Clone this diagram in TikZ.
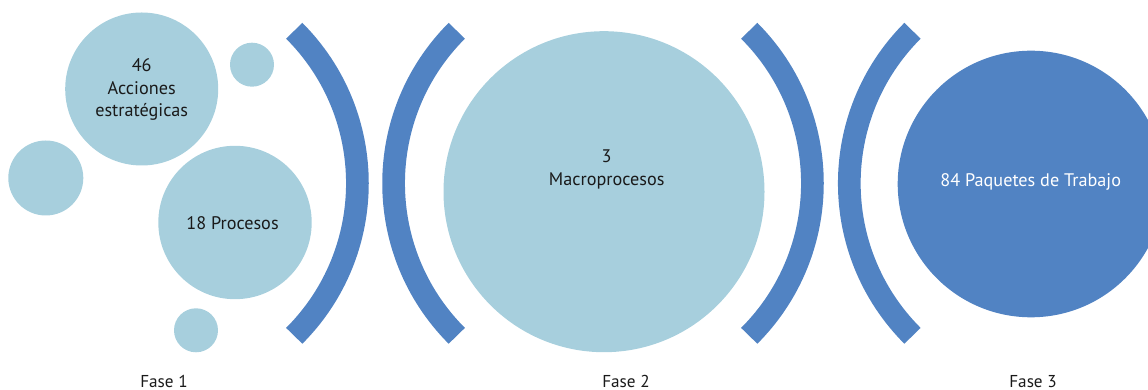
\documentclass[tikz,border=0pt]{standalone}
\usepackage{fontspec}
\setmainfont{PT Sans}
\definecolor{lightb}{HTML}{A7CFDD}
\definecolor{darkb}{HTML}{5183C3}
\definecolor{txt}{HTML}{1A1A1A}
\begin{document}
\begin{tikzpicture}[x=1pt,y=1pt,
  bub/.style={circle,fill=lightb,draw=none,inner sep=0pt,text=txt,align=center,
    font=\fontsize{18.2}{22.6}\selectfont},
  band/.style={draw=darkb,line width=22.7pt,line cap=butt},
  fase/.style={text=txt,font=\fontsize{17.2}{18}\selectfont,anchor=base,inner sep=0pt}]
\useasboundingbox (0,0) rectangle (1148,390);
\clip (0,0) rectangle (1148,390);
% circles
\node[bub,minimum size=153pt] (acc) at (141.7,301) {};
\node[bub,minimum size=44pt] (smtop) at (252,325.3) {};
\node[bub,minimum size=75pt] (left) at (45.8,212) {};
\node[bub,minimum size=153.4pt] (proc) at (235,167.5) {};
\node[bub,minimum size=44pt] (smbot) at (196,59.7) {};
\node[bub,minimum size=321pt] (macro) at (604,198.3) {};
\node[circle,fill=darkb,inner sep=0pt,minimum size=266.6pt] (paq) at (1031,206) {};
% texts
\node[bub,fill=none] (acct) at (141.7,300.5) {46\\Acciones\\estratégicas};
\node[bub,fill=none] (proct) at (232.5,166.7) {18 Procesos};
\node[bub,fill=none] (macrot) at (606.7,220.5) {3\\Macroprocesos};
\node[bub,fill=none,text=white] (paqt) at (1030.7,208.3) {84 Paquetes de Trabajo};
% bands
\coordinate (c1) at (141.7,206.7);
\coordinate (c2) at (609.3,206.7);
\coordinate (c3) at (596.7,206.7);
\coordinate (c4) at (1065,206.7);
\draw[band] ([shift={(45:215.7pt)}]c1) arc[start angle=45,end angle=-45,radius=215.7pt];
\draw[band] ([shift={(135:215.7pt)}]c2) arc[start angle=135,end angle=225,radius=215.7pt];
\draw[band] ([shift={(45:215.7pt)}]c3) arc[start angle=45,end angle=-45,radius=215.7pt];
\draw[band] ([shift={(135:215.7pt)}]c4) arc[start angle=135,end angle=225,radius=215.7pt];
% labels
\node[fase] (f1) at (164,2.5) {Fase 1};
\node[fase] (f2) at (626,2.5) {Fase 2};
\node[fase] (f3) at (1033,2.5) {Fase 3};
\end{tikzpicture}
\end{document}
